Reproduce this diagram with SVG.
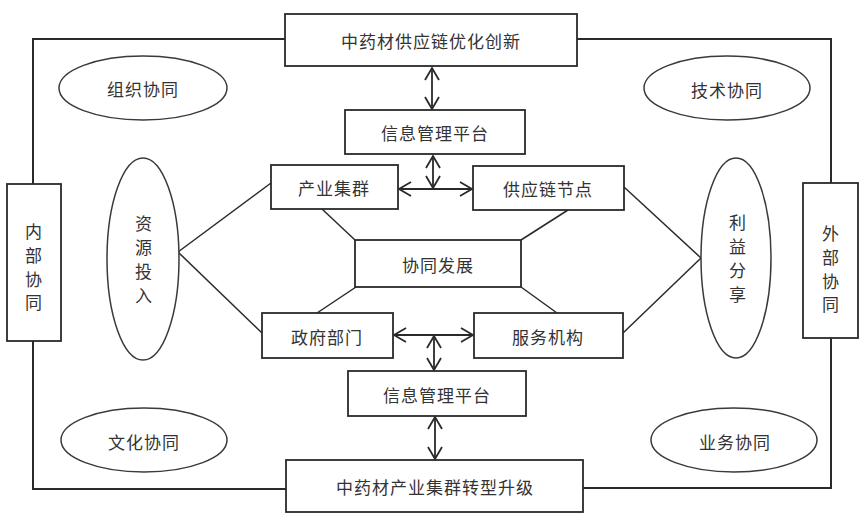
<svg xmlns="http://www.w3.org/2000/svg" width="865" height="526" viewBox="0 0 865 526">
<defs>
<marker id="ah" viewBox="-13 -8 15 16" refX="0" refY="0" markerWidth="15" markerHeight="16" markerUnits="userSpaceOnUse" orient="auto-start-reverse">
<path d="M-12,-7 L0,0 L-12,7" fill="none" stroke="#2a2a2a" stroke-width="1.8"/>
</marker>
<style>
.box{fill:#fff;stroke:#2a2a2a;stroke-width:1.8}
.ell{fill:#fff;stroke:#3a3a3a;stroke-width:1.5}
.t{font-family:"Noto Sans CJK SC","Liberation Sans",sans-serif;font-size:17px;fill:#333;text-anchor:middle;dominant-baseline:central;letter-spacing:1px}
.ln{fill:none;stroke:#2a2a2a;stroke-width:1.5}
.fr{fill:none;stroke:#2a2a2a;stroke-width:2}
.ar{fill:none;stroke:#2a2a2a;stroke-width:1.8;marker-start:url(#ah);marker-end:url(#ah)}
</style>
</defs>
<rect width="865" height="526" fill="#fff"/>
<g id="connectors">
<polyline class="fr" points="285,39 33,39 33,184"/>
<polyline class="fr" points="33,341 33,489 286,489"/>
<polyline class="fr" points="577,39 831,39 831,183"/>
<polyline class="fr" points="831,338 831,488 583,488"/>
<line class="ln" x1="178" y1="252" x2="271" y2="183"/>
<line class="ln" x1="178" y1="252" x2="262" y2="333"/>
<line class="ln" x1="701" y1="258" x2="624" y2="187"/>
<line class="ln" x1="701" y1="258" x2="623" y2="333"/>
<line class="ln" x1="322" y1="209" x2="355" y2="240"/>
<line class="ln" x1="568" y1="210" x2="521" y2="240"/>
<line class="ln" x1="356" y1="287" x2="317" y2="313"/>
<line class="ln" x1="521" y1="287" x2="557" y2="313"/>
<line class="ar" x1="432" y1="68" x2="432" y2="109"/>
<line class="ar" x1="433" y1="156" x2="433" y2="188"/>
<line class="ar" x1="399" y1="189" x2="472" y2="189"/>
<line class="ar" x1="394" y1="335" x2="473" y2="335"/>
<line class="ar" x1="434" y1="336" x2="434" y2="370"/>
<line class="ar" x1="435" y1="417" x2="435" y2="459"/>
</g>
<g id="n-top"><rect class="box" x="285" y="14" width="292" height="52"/><text class="t" x="431" y="40">中药材供应链优化创新</text></g>
<g id="n-info1"><rect class="box" x="345" y="110" width="180" height="44"/><text class="t" x="435" y="132">信息管理平台</text></g>
<g id="n-cluster"><rect class="box" x="271" y="165" width="127" height="44"/><text class="t" x="334" y="187">产业集群</text></g>
<g id="n-node"><rect class="box" x="473" y="166" width="151" height="44"/><text class="t" x="548" y="188">供应链节点</text></g>
<g id="n-synergy"><rect class="box" x="355" y="240" width="166" height="47"/><text class="t" x="438" y="264">协同发展</text></g>
<g id="n-gov"><rect class="box" x="262" y="313" width="131" height="45"/><text class="t" x="327" y="336">政府部门</text></g>
<g id="n-service"><rect class="box" x="474" y="313" width="149" height="45"/><text class="t" x="548" y="336">服务机构</text></g>
<g id="n-info2"><rect class="box" x="348" y="371" width="178" height="45"/><text class="t" x="437" y="394">信息管理平台</text></g>
<g id="n-bottom"><rect class="box" x="286" y="460" width="297" height="52"/><text class="t" x="435" y="486">中药材产业集群转型升级</text></g>
<g id="n-internal"><rect class="box" x="7" y="184" width="54" height="157"/>
<text class="t" x="34" y="230">内</text><text class="t" x="34" y="254">部</text><text class="t" x="34" y="278">协</text><text class="t" x="34" y="301">同</text></g>
<g id="n-external"><rect class="box" x="803" y="183" width="55" height="155"/>
<text class="t" x="831" y="232">外</text><text class="t" x="831" y="256">部</text><text class="t" x="831" y="280">协</text><text class="t" x="831" y="303">同</text></g>
<g id="n-resource"><ellipse class="ell" cx="143" cy="259" rx="36" ry="101"/>
<text class="t" x="144" y="222">资</text><text class="t" x="144" y="246">源</text><text class="t" x="144" y="270">投</text><text class="t" x="144" y="294">入</text></g>
<g id="n-benefit"><ellipse class="ell" cx="736" cy="258" rx="35" ry="100"/>
<text class="t" x="738" y="221">利</text><text class="t" x="738" y="245">益</text><text class="t" x="738" y="269">分</text><text class="t" x="738" y="293">享</text></g>
<g id="n-org"><ellipse class="ell" cx="143" cy="88" rx="84" ry="32"/><text class="t" x="143" y="88">组织协同</text></g>
<g id="n-tech"><ellipse class="ell" cx="727" cy="88" rx="83" ry="32"/><text class="t" x="727" y="89">技术协同</text></g>
<g id="n-culture"><ellipse class="ell" cx="144" cy="440" rx="83" ry="32"/><text class="t" x="144" y="441">文化协同</text></g>
<g id="n-business"><ellipse class="ell" cx="734" cy="440" rx="83" ry="32"/><text class="t" x="735" y="441">业务协同</text></g>
</svg>
